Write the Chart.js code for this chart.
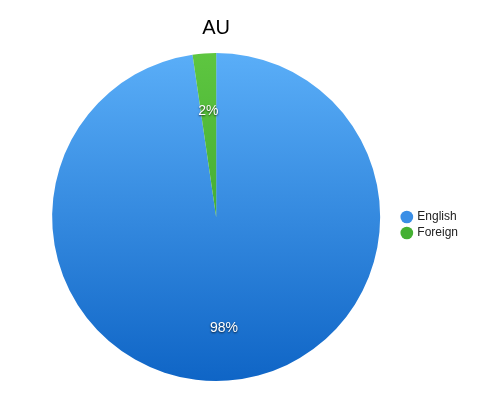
<!DOCTYPE html>
<html><head><meta charset="utf-8">
<script src="https://cdn.jsdelivr.net/npm/chart.js@4"></script>
<style>html,body{margin:0;padding:0;background:#fff}#wrap{width:500px;height:400px}</style>
</head><body><div id="wrap"><canvas id="c" width="500" height="400"></canvas></div>
<script>
const categories = ["English", "Foreign"];
const values = [97.7, 2.3];
const chartTitle = "AU";
const FONT = '"Helvetica Neue", Helvetica, Arial, "Liberation Sans", sans-serif';
const topColors = ['#5aaef8', '#5ec640'];
const bottomColors = ['#0f65c6', '#2c9626'];
const legendColors = ['#3a8ee6', '#44b032'];

function sliceFill(ctx) {
  const i = ctx.dataIndex;
  const area = ctx.chart.chartArea;
  if (!area) return topColors[i];
  const g = ctx.chart.ctx.createLinearGradient(0, area.top, 0, area.bottom);
  g.addColorStop(0, topColors[i]);
  g.addColorStop(1, bottomColors[i]);
  return g;
}

const labelPlugin = {
  id: 'pctLabels',
  afterDatasetsDraw(chart) {
    const c = chart.ctx;
    const meta = chart.getDatasetMeta(0);
    const total = values.reduce((a, b) => a + b, 0);
    c.save();
    c.font = '14px ' + FONT;
    c.textAlign = 'center';
    c.textBaseline = 'middle';
    c.fillStyle = '#fff';
    c.shadowColor = 'rgba(0,0,0,0.75)';
    c.shadowBlur = 2;
    c.shadowOffsetY = 1;
    meta.data.forEach((arc, i) => {
      const p = arc.getProps(['x', 'y', 'startAngle', 'endAngle', 'outerRadius'], true);
      const mid = (p.startAngle + p.endAngle) / 2;
      const r = p.outerRadius * 0.665;
      const txt = Math.round(values[i] / total * 100) + '%';
      c.fillText(txt, p.x + Math.cos(mid) * r, p.y + Math.sin(mid) * r + 2.5);
    });
    c.restore();
    // title centred over the pie
    const a = chart.chartArea;
    c.save();
    c.font = '20px ' + FONT;
    c.fillStyle = '#000';
    c.textAlign = 'center';
    c.textBaseline = 'middle';
    c.fillText(chartTitle, (a.left + a.right) / 2, 28);
    c.restore();
  }
};

new Chart(document.getElementById('c'), {
  type: 'pie',
  data: {
    labels: categories,
    datasets: [{
      data: values,
      borderWidth: 0,
      backgroundColor: sliceFill
    }]
  },
  options: {
    responsive: false,
    animation: false,
    layout: { padding: { left: 34, right: 32, top: 53, bottom: 19 } },
    plugins: {
      title: { display: false },
      legend: {
        position: 'right',
        title: { display: true, text: ' ', font: { size: 10 }, padding: 2 },
        labels: {
          usePointStyle: true, pointStyle: 'circle', boxWidth: 9, boxHeight: 9,
          color: '#222', font: { family: FONT, size: 12 }, padding: 4,
          generateLabels(chart) {
            return categories.map((t, i) => ({ text: t, fillStyle: legendColors[i], strokeStyle: legendColors[i], lineWidth: 0, pointStyle: 'circle', index: i, hidden: false, fontColor: '#222' }));
          }
        }
      },
      tooltip: { enabled: false }
    }
  },
  plugins: [labelPlugin]
});
</script></body></html>
